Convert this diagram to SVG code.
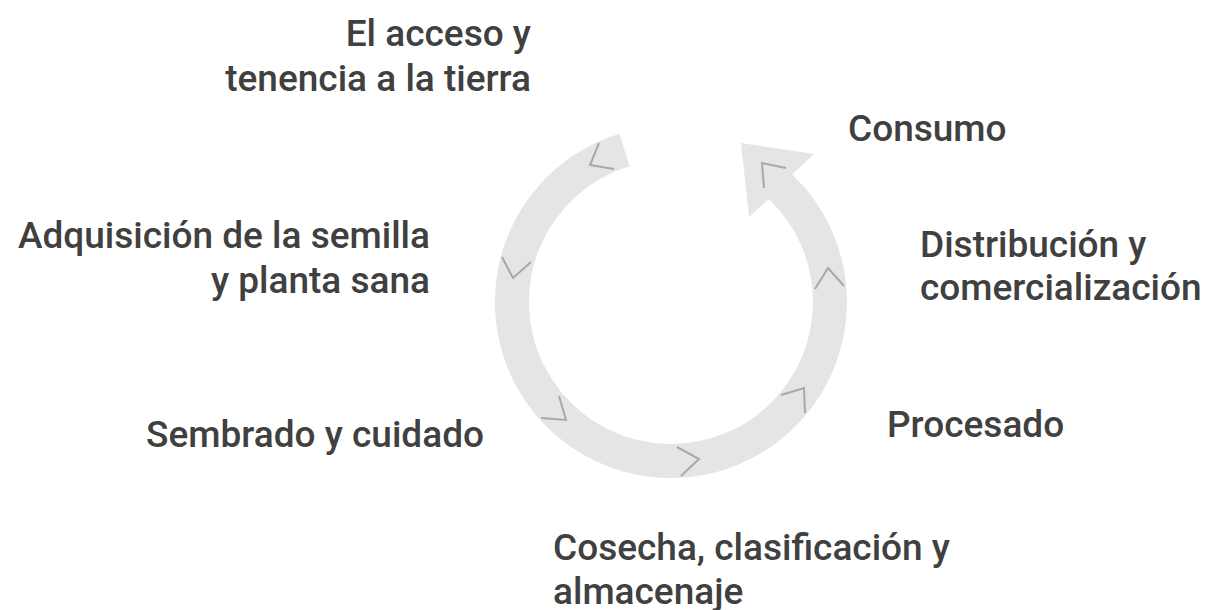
<svg xmlns="http://www.w3.org/2000/svg" width="1206" height="610" viewBox="0 0 1206 610">
<style>
.lbl{font-family:Roboto,"Liberation Sans",sans-serif;font-weight:500;font-size:37px;fill:#404040}
.end{text-anchor:end}
.chev{fill:none;stroke:#a8a8a8;stroke-width:2}
</style>
<rect width="1206" height="610" fill="#ffffff"/>
<g id="connectors">
<path id="cycle-arrow" fill="#e5e5e5" d="M619.5,133.7 A176,176 0 1 0 792.1,174.4 L814,154 L741,143 L749,217 L768.7,199 A142,142 0 1 1 629.5,166.2 Z"/>
<polyline class="chev" points="599,143 590,165 614,169"/>
<polyline class="chev" points="502,257 513,278 531,262"/>
<polyline class="chev" points="559,396 566,420 541,418"/>
<polyline class="chev" points="677,447 699,459 681,476"/>
<polyline class="chev" points="781,395 804,388 805,413"/>
<polyline class="chev" points="815,289 828,268 844,286"/>
<polyline class="chev" points="786,168 762,163 764,188"/>
</g>
<g id="node-tierra"><text class="lbl end" x="531" y="46">El acceso y</text><text class="lbl end" x="531" y="91">tenencia a la tierra</text></g>
<g id="node-semilla"><text class="lbl end" x="430" y="248">Adquisición de la semilla</text><text class="lbl end" x="430" y="293">y planta sana</text></g>
<g id="node-sembrado"><text class="lbl end" x="484" y="447">Sembrado y cuidado</text></g>
<g id="node-cosecha"><text class="lbl" x="553" y="560">Cosecha, clasificación y</text><text class="lbl" x="553" y="604">almacenaje</text></g>
<g id="node-procesado"><text class="lbl" x="887" y="437">Procesado</text></g>
<g id="node-distribucion"><text class="lbl" x="920" y="257">Distribución y</text><text class="lbl" x="920" y="300">comercialización</text></g>
<g id="node-consumo"><text class="lbl" x="848" y="141">Consumo</text></g>
</svg>
